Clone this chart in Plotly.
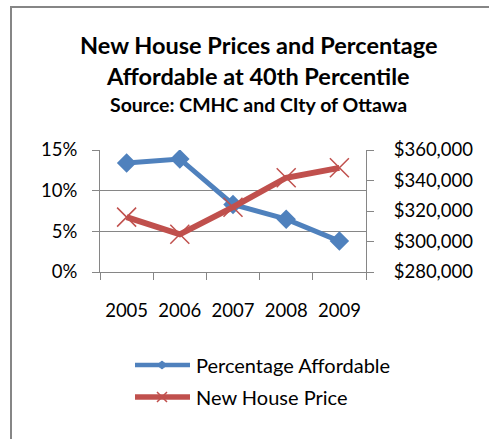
import plotly.graph_objects as go

# Data: new house prices vs. share of houses affordable at the 40th income percentile
years = ["2005", "2006", "2007", "2008", "2009"]
pct_affordable = [0.134, 0.139, 0.083, 0.065, 0.038]
house_price = [316000, 304700, 322500, 341800, 348300]

left_ticks = [0, 0.05, 0.10, 0.15]
right_ticks = [280000, 300000, 320000, 340000, 360000]

series_names = ["Percentage Affordable", "New House Price"]

BLUE = "#4F81BD"
RED = "#C0504D"
GRID = "#868686"
FONT = "Lato"
AXIS_FONT = 18.5

W, H = 489, 439
ML, MR, MT, MB = 100, 123, 150, 167
PW, PH = W - ML - MR, H - MT - MB


def px_to_paper_x(px):
    return (px - ML) / PW


def px_to_paper_y(py):
    return 1 - (py - MT) / PH


fig = go.Figure()

fig.add_trace(go.Scatter(
    x=years, y=pct_affordable, name=series_names[0],
    mode="lines+markers",
    line=dict(color=BLUE, width=5),
    marker=dict(symbol="diamond", size=15, color=BLUE),
    yaxis="y",
))
fig.add_trace(go.Scatter(
    x=years, y=house_price, name=series_names[1],
    mode="lines+markers",
    line=dict(color=RED, width=6),
    marker=dict(symbol="x-thin-open", size=19, color=RED,
                line=dict(color=RED, width=1.5)),
    yaxis="y2",
))

# Title block
title_lines = [
    ("New House Prices and Percentage", 23.5, 44.5),
    ("Affordable at 40th Percentile", 23.5, 76),
    ("Source: CMHC and CIty of Ottawa", 19.5, 104),
]
for text, size, ypx in title_lines:
    fig.add_annotation(
        text=f"<b>{text}</b>", xref="paper", yref="paper",
        x=px_to_paper_x(258), y=px_to_paper_y(ypx),
        xanchor="center", yanchor="middle", showarrow=False,
        font=dict(family=FONT, size=size, color="#000000"),
    )

# Chart frame
fig.add_shape(
    type="rect", xref="paper", yref="paper",
    x0=px_to_paper_x(11), x1=px_to_paper_x(530),
    y0=px_to_paper_y(480), y1=px_to_paper_y(7),
    line=dict(color=GRID, width=2), fillcolor="rgba(0,0,0,0)",
)

# Legend: line sample with a small marker, then the series name
legend_rows = [(365, BLUE, 4.5, "diamond"), (397, RED, 5.5, "x")]
sample_cx = px_to_paper_x(162)
for name, (ypx, color, lw, sym) in zip(series_names, legend_rows):
    yc = px_to_paper_y(ypx)
    fig.add_shape(
        type="line", xref="paper", yref="paper",
        xsizemode="pixel", ysizemode="pixel", xanchor=sample_cx, yanchor=yc,
        x0=-27, x1=28, y0=0, y1=0,
        line=dict(color=color, width=lw),
    )
    if sym == "diamond":
        path = "M-5,0 L0,4 L5,0 L0,-4 Z"
        fill = color
        lwid = 1
    else:
        path = "M-5,-5 L5,5 M-5,5 L5,-5"
        fill = "rgba(0,0,0,0)"
        lwid = 1.5
    fig.add_shape(
        type="path", xref="paper", yref="paper",
        xsizemode="pixel", ysizemode="pixel", xanchor=sample_cx, yanchor=yc,
        path=path, fillcolor=fill, line=dict(color=color, width=lwid),
    )
    fig.add_annotation(
        text=name, xref="paper", yref="paper",
        x=px_to_paper_x(194), y=yc, xanchor="left", yanchor="middle",
        showarrow=False, font=dict(family=FONT, size=20, color="#000000"),
    )

fig.update_layout(
    width=W, height=H,
    margin=dict(l=ML, r=MR, t=MT, b=MB),
    paper_bgcolor="white", plot_bgcolor="white",
    font=dict(family=FONT, size=AXIS_FONT, color="#000000"),
    showlegend=False,
    xaxis=dict(
        type="category", range=[-0.5, 4.5],
        tickson="boundaries", ticks="outside", ticklen=7,
        tickcolor=GRID, showline=True, linecolor=GRID, linewidth=1,
        showgrid=False, zeroline=False, ticklabelstandoff=22,
    ),
    yaxis=dict(
        range=[0, 0.15], tickvals=left_ticks, tickformat=".0%",
        ticks="outside", ticklen=7, tickcolor=GRID,
        showline=True, linecolor=GRID, linewidth=1,
        showgrid=True, gridcolor=GRID, gridwidth=1, zeroline=False,
        ticklabelstandoff=11,
    ),
    yaxis2=dict(
        range=[280000, 360000], tickvals=right_ticks, tickformat="$,.0f",
        overlaying="y", side="right",
        ticks="outside", ticklen=7, tickcolor=GRID,
        showline=True, linecolor=GRID, linewidth=1,
        showgrid=False, zeroline=False, ticklabelstandoff=16,
    ),
)

fig.write_html("out.html")
